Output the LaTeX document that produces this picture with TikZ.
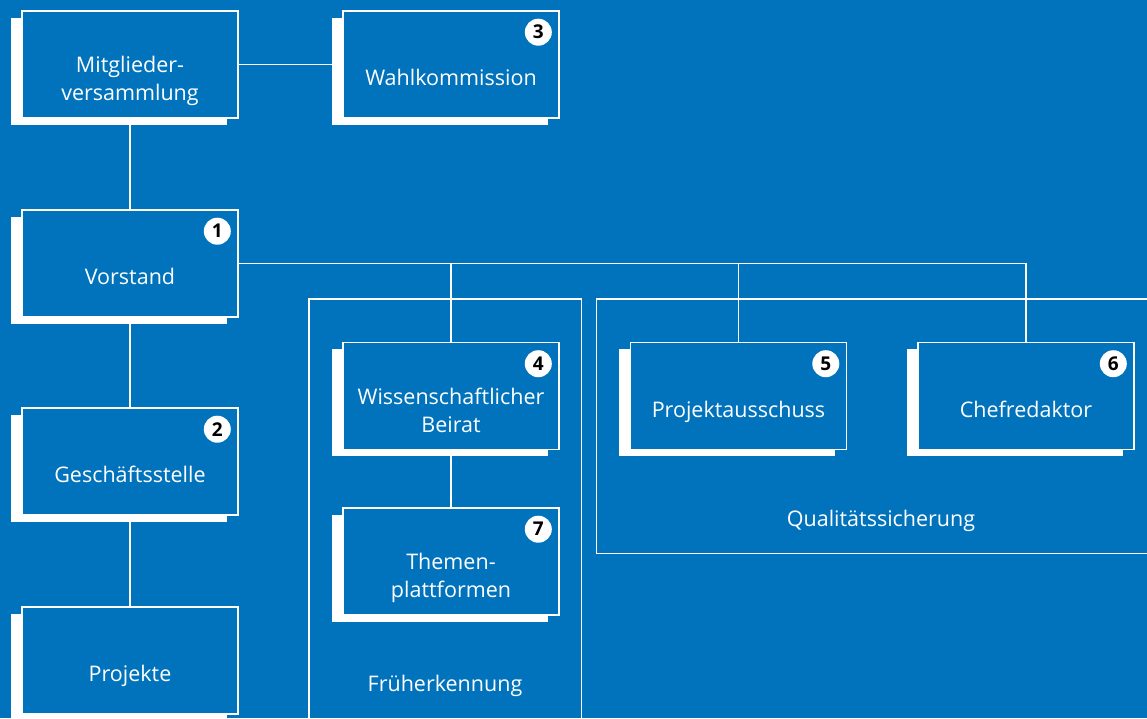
\documentclass[tikz,border=0pt]{standalone}
\usepackage{fontspec}
\setmainfont{Open Sans}
\usetikzlibrary{calc,shadows}
\definecolor{bgblue}{RGB}{0,115,188}
\begin{document}
\begin{tikzpicture}[x=1pt,y=-1pt,
  orgbox/.style={draw=white, line width=1.6pt, fill=bgblue, minimum width=216pt, minimum height=107pt, inner sep=0pt,
     drop shadow={shadow xshift=-11.5pt, shadow yshift=-6.5pt, fill=white, opacity=1}},
  boxtext/.style={text=white, font=\fontsize{21.5}{27.5}\selectfont, align=center, inner sep=0pt},
  badge/.style={circle, fill=white, minimum size=27pt, inner sep=0pt, text=black, font=\fontsize{19}{19}\selectfont\bfseries},
  conn/.style={draw=white, line width=1.5pt},
  framebox/.style={draw=white, line width=1.5pt}]
\useasboundingbox (0,0) rectangle (1147,718);
\fill[bgblue] (0,0) rectangle (1147,718);
\clip (0,0) rectangle (1147,718);
% frames
\draw[framebox] (309,720) -- (309,299) -- (581.5,299) -- (581.5,720);
\draw[framebox] (1150,299) -- (596.5,299) -- (596.5,553.5) -- (1150,553.5);
\node[boxtext, anchor=base] (fk) at (445,691.5) {Früherkennung};
\node[boxtext, anchor=base] (qs) at (881,526) {Qualitätssicherung};
% boxes
\node[orgbox] (mv) at (130,64.5) {};
\node[orgbox] (wk) at (451,64.5) {};
\node[orgbox] (vs) at (130,263.5) {};
\node[orgbox] (gs) at (130,461.5) {};
\node[orgbox] (pj) at (130,660.5) {};
\node[orgbox] (wb) at (451,396) {};
\node[orgbox] (tp) at (451,561.5) {};
\node[orgbox] (pa) at (738.5,396) {};
\node[orgbox] (cr) at (1026,396) {};
% connectors
\draw[conn] (mv.east) -- (wk.west);
\draw[conn] (mv.south) -- (vs.north);
\draw[conn] (vs.south) -- (gs.north);
\draw[conn] (gs.south) -- (pj.north);
\draw[conn] (vs.east) -- (cr.north |- vs.east) -- (cr.north);
\draw[conn] (wb.north |- vs.east) -- (wb.north);
\draw[conn] (pa.north |- vs.east) -- (pa.north);
\draw[conn] (wb.south) -- (tp.north);
% texts
\node[boxtext] (tmv) at ($(mv.center)+(0,16.5)$) {Mitglieder-\\versammlung};
\node[boxtext, anchor=base] (twk) at ($(wk.center)+(0,21)$) {Wahlkommission};
\node[boxtext, anchor=base] (tvs) at ($(vs.center)+(0,21)$) {Vorstand};
\node[boxtext, anchor=base] (tgs) at ($(gs.center)+(0,21)$) {Geschäftsstelle};
\node[boxtext, anchor=base] (tpj) at ($(pj.center)+(0,21)$) {Projekte};
\node[boxtext] (twb) at ($(wb.center)+(0,14.5)$) {Wissenschaftlicher\\Beirat};
\node[boxtext] (ttp) at ($(tp.center)+(0,16.5)$) {Themen-\\plattformen};
\node[boxtext, anchor=base] (tpa) at ($(pa.center)+(0,21)$) {Projektausschuss};
\node[boxtext, anchor=base] (tcr) at ($(cr.center)+(0,21)$) {Chefredaktor};
% badges
\node[badge] (b1) at ($(vs.north east)+(-21.5,22)$) {1};
\node[badge] (b2) at ($(gs.north east)+(-21.5,22)$) {2};
\node[badge] (b3) at ($(wk.north east)+(-21.5,22)$) {3};
\node[badge] (b4) at ($(wb.north east)+(-21.5,22)$) {4};
\node[badge] (b5) at ($(pa.north east)+(-21.5,22)$) {5};
\node[badge] (b6) at ($(cr.north east)+(-21.5,22)$) {6};
\node[badge] (b7) at ($(tp.north east)+(-21.5,22)$) {7};
\end{tikzpicture}
\end{document}
